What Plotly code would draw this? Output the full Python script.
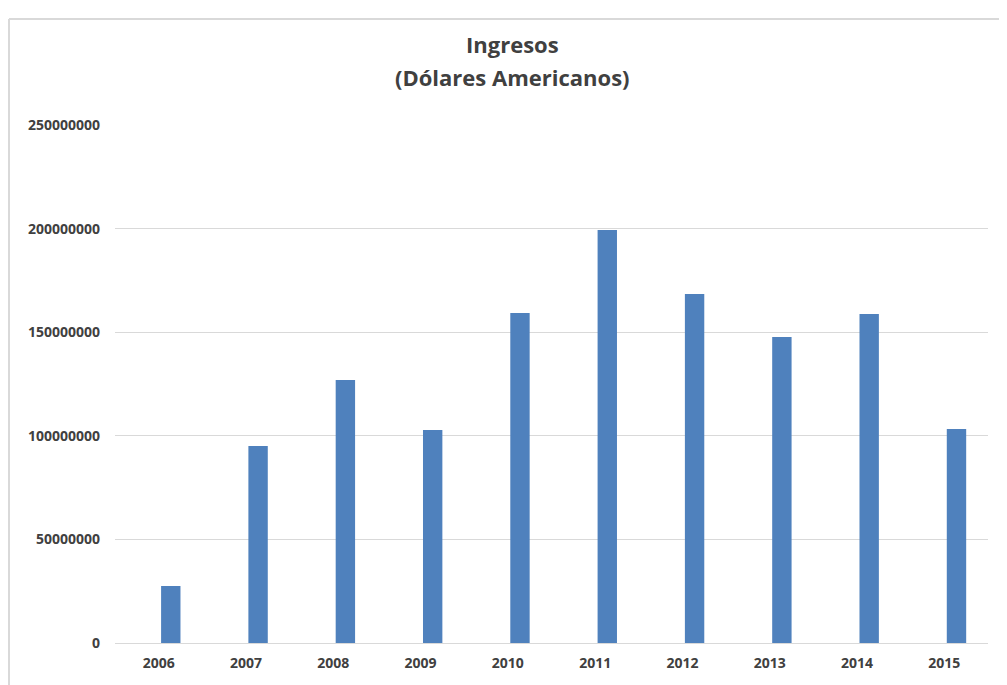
import plotly.graph_objects as go

# Values
years = ["2006", "2007", "2008", "2009", "2010", "2011", "2012", "2013", "2014", "2015"]
ingresos = [27.5e6, 95.1e6, 126.9e6, 102.8e6, 159.3e6, 199.3e6, 168.4e6, 147.7e6, 158.8e6, 103.3e6]
title_lines = ["Ingresos", "(Dólares Americanos)"]

# page has an 8px body margin, so the figure is a bit smaller than the window
W, H = 999, 677
L, R, T, B = 107, 19, 117, 42
pw, ph = W - L - R, H - T - B

fig = go.Figure()
# bars sit slightly right of the category centre, as in the original Excel chart
fig.add_trace(go.Bar(
    x=years, y=ingresos, width=0.222, offset=0.028,
    marker=dict(color="#4f81bd", line=dict(width=0)),
))

# light frame around the chart (left and top edges visible)
fx = (1 - L) / pw
fy = 1 + (T - 11) / ph
frame = dict(color="#d9d9d9", width=2)
fig.add_shape(type="line", xref="paper", yref="paper", x0=fx, x1=fx, y0=-0.2, y1=fy, line=frame)
fig.add_shape(type="line", xref="paper", yref="paper", x0=fx, x1=1.1, y0=fy, y1=fy, line=frame)

# two-line title
for i, txt in enumerate(title_lines):
    ypx = [36, 69][i]
    fig.add_annotation(
        text="<b>" + txt + "</b>", showarrow=False,
        xref="paper", yref="paper", x=(504 - L) / pw, y=1 + (T - ypx) / ph,
        xanchor="center", yanchor="middle",
        font=dict(size=22, color="#404040", family="Open Sans"),
    )

tick_font = dict(size=14, family="Open Sans", color="#404040", weight="bold")

fig.update_layout(
    width=W, height=H,
    margin=dict(l=L, r=R, t=T, b=B),
    paper_bgcolor="white", plot_bgcolor="white",
    showlegend=False,
    font=dict(family="Open Sans", color="#404040"),
)
fig.update_yaxes(
    range=[0, 250e6], dtick=50e6, tickformat="d",
    showgrid=True, gridcolor="#d9d9d9", gridwidth=1,
    zeroline=True, zerolinecolor="#d9d9d9", zerolinewidth=1,
    showline=False, ticks="", ticklabelstandoff=14,
    tickfont=tick_font,
)
fig.update_xaxes(
    showgrid=False, showline=False, ticks="", ticklabelstandoff=10,
    range=[-0.5, len(years) - 0.5],
    tickfont=tick_font,
)

fig.write_html("out.html")
